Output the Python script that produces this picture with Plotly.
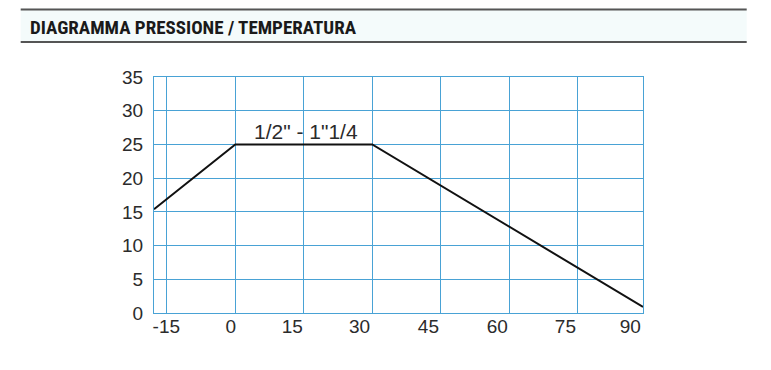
import plotly.graph_objects as go

# Data
temperature = [-17.8, 0, 30, 89.3]
pressure = [15.4, 25, 25, 0.9]
series_label = '1/2" - 1"1/4'
title_text = "DIAGRAMMA PRESSIONE / TEMPERATURA"

x_grid_vals = [-15, 0, 15, 30, 45, 60, 75]
x_tick_text = ["-15", "0", "15", "30", "45", "60", "75", "90"]
y_tick_vals = [0, 5, 10, 15, 20, 25, 30, 35]

# label positions (labels in the original sit a little left of the grid lines)
x_label_pos = [-15.1, -1.0, 12.5, 27.2, 42.3, 57.4, 72.3, 86.5]

OFF = 8  # page body margin
W, H = 771 - 2 * OFF, 370 - 2 * OFF
L, R, T, B = 154.3 - OFF, 643.3 - OFF, 76.7 - OFF, 313.3 - OFF
X_RANGE = [-17.8, 89.3]

def px(p):
    return (p - OFF - L) / (R - L)

def py(q):
    return (B - (q - OFF)) / (B - T)

grid_col = "#49a2d5"
text_col = "#2b2b2b"
font_family = "Liberation Sans, Arial, sans-serif"

fig = go.Figure()
fig.add_trace(go.Scatter(x=temperature, y=pressure, mode="lines",
                         line=dict(color="#111111", width=2),
                         showlegend=False, hoverinfo="skip", cliponaxis=False))
fig.add_trace(go.Scatter(x=[temperature[0]], y=[pressure[0]], xaxis="x2",
                         mode="markers", marker=dict(opacity=0),
                         showlegend=False, hoverinfo="skip"))

fig.update_layout(
    width=W, height=H,
    margin=dict(l=L, r=W - R, t=T, b=H - B, pad=0),
    paper_bgcolor="white", plot_bgcolor="white",
    font=dict(family=font_family, color=text_col),
    xaxis=dict(range=X_RANGE, tickvals=x_grid_vals, showticklabels=False,
               showgrid=True, gridcolor=grid_col, gridwidth=1,
               zeroline=False, showline=True, linecolor=grid_col, linewidth=1,
               mirror=True, ticks=""),
    xaxis2=dict(range=X_RANGE, overlaying="x", side="bottom",
                tickvals=x_label_pos, ticktext=x_tick_text,
                showgrid=False, zeroline=False, showline=False, ticks="",
                tickfont=dict(size=19, color=text_col, family=font_family)),
    yaxis=dict(range=[0, 35], tickvals=y_tick_vals,
               showgrid=True, gridcolor=grid_col, gridwidth=1,
               zeroline=False, showline=True, linecolor=grid_col, linewidth=1,
               mirror=True, ticks="", ticklabelstandoff=6,
               tickfont=dict(size=19, color=text_col, family=font_family)),
)

fig.add_shape(type="rect", xref="paper", yref="paper",
              x0=px(21), x1=px(747), y0=py(41.5), y1=py(8),
              fillcolor="#f4fbfb", line=dict(width=0), layer="below")
for q in (9, 41.5):
    fig.add_shape(type="line", xref="paper", yref="paper",
                  x0=px(21), x1=px(747), y0=py(q), y1=py(q),
                  line=dict(color="#555555", width=2))

fig.add_annotation(text=title_text, xref="paper", yref="paper",
                   x=px(28), y=py(27.5), xanchor="left", yanchor="middle",
                   showarrow=False,
                   font=dict(family="Roboto Condensed, Roboto, sans-serif",
                             size=19, color="#1a1a1a", weight="bold"))

fig.add_annotation(text=series_label, x=15.4, y=25, xref="x", yref="y",
                   xanchor="center", yanchor="bottom", yshift=-1,
                   showarrow=False,
                   font=dict(size=21, color=text_col, family=font_family))

fig.write_html("out.html")
